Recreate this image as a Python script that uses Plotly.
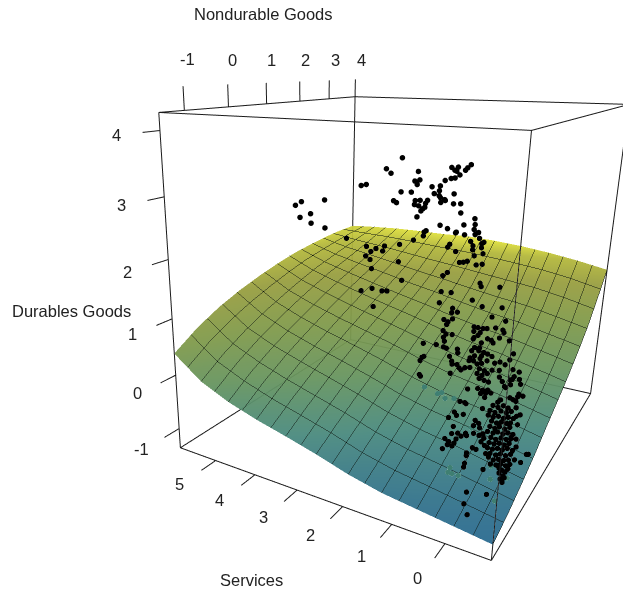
import plotly.graph_objects as go

# ---------- axis limits of the drawn box and tick values ----------
nondurable_limits = [-1.515, 4.0]
services_limits = [-0.809, 5.959]
durables_limits = [-1.372, 4.263]
tick_values_nondurable = [-1, 0, 1, 2, 3, 4]
tick_values_services = [0, 1, 2, 3, 4, 5]
tick_values_durables = [-1, 0, 1, 2, 3, 4]

# ---------- fitted surface ----------
grid_nondurable = [-1.515, -0.964, -0.412, 0.139, 0.691, 1.243, 1.794, 2.346, 2.897, 3.449, 4.0]
grid_services = [-0.809, -0.132, 0.545, 1.222, 1.899, 2.576, 3.252, 3.929, 4.606, 5.283, 5.959]
surface_durables = [
    [-1.12, -1.00, -0.84, -0.66, -0.45, -0.25, -0.04, 0.20, 0.48, 0.84, 1.22],
    [-1.05, -0.90, -0.73, -0.54, -0.32, -0.12, 0.09, 0.32, 0.60, 0.97, 1.32],
    [-0.98, -0.80, -0.61, -0.41, -0.20, 0.00, 0.21, 0.44, 0.71, 1.06, 1.40],
    [-0.91, -0.71, -0.51, -0.31, -0.10, 0.11, 0.31, 0.52, 0.78, 1.12, 1.46],
    [-0.79, -0.58, -0.37, -0.17, 0.04, 0.24, 0.43, 0.63, 0.86, 1.17, 1.50],
    [-0.63, -0.40, -0.19, 0.01, 0.21, 0.39, 0.57, 0.75, 0.95, 1.22, 1.52],
    [-0.49, -0.25, -0.03, 0.17, 0.36, 0.53, 0.69, 0.85, 1.03, 1.26, 1.50],
    [-0.36, -0.10, 0.13, 0.32, 0.50, 0.67, 0.82, 0.97, 1.12, 1.31, 1.50],
    [-0.20, 0.08, 0.30, 0.49, 0.66, 0.82, 0.96, 1.08, 1.21, 1.35, 1.49],
    [0.02, 0.30, 0.52, 0.70, 0.85, 0.99, 1.11, 1.20, 1.29, 1.38, 1.46],
    [0.39, 0.66, 0.86, 1.01, 1.13, 1.23, 1.31, 1.36, 1.40, 1.42, 1.42],
]

# ---------- observations: (services, durables) pairs at the low-nondurable side ----------
side_a = [
 1.09,3.86, 1.35,3.71, 1.27,3.66, 0.82,3.71, 1.78,3.47, 1.69,3.49, 0.87,3.59,
 0.83,3.55, 0.79,3.61, 0.30,3.79, 0.25,3.76, 0.20,3.80, 0.22,3.75, 0.01,3.84,
 0.06,3.80, 0.09,3.77, 0.39,3.63, 0.30,3.66, 0.24,3.67, 0.17,3.71, 0.59,3.54,
 0.46,3.56, 0.47,3.50, 1.09,3.44, 0.92,3.45, 0.55,3.46, 0.47,3.44, 0.45,3.42,
 0.38,3.40, 0.37,3.39, 0.24,3.48, 1.21,3.32, 1.16,3.30, 0.85,3.35, 0.77,3.36,
 0.86,3.30, 0.65,3.37, 0.68,3.33, 0.44,3.36, 0.24,3.36, 0.13,3.37, 0.79,3.29,
 0.69,3.28, 0.75,3.23, 0.72,3.26, 0.12,3.26, 0.81,3.15, -0.10,3.21, -0.11,3.14,
 -0.10,3.08, -0.17,3.05, -0.12,3.02, 0.06,3.12, 0.43,3.08, 0.31,3.05, 0.65,2.99,
 0.68,2.97, 0.69,2.92, 0.17,3.02, 0.18,3.01, 0.04,3.00, 0.85,2.85, 2.03,2.75,
 -0.06,2.93, -0.19,2.98, -0.26,2.94, -0.23,2.92, -0.23,2.87, 0.26,2.86, 0.29,2.82,
 0.16,2.78, -0.10,2.88, -0.10,2.83, 1.66,2.68, 1.49,2.67, 1.34,2.72, 1.08,2.77,
 1.58,2.62, 1.37,2.65, 1.67,2.55, 1.59,2.51, 1.09,2.54, -0.13,2.76, -0.26,2.80,
 0.09,2.65, 0.03,2.66, -0.03,2.68, 3.02,3.11, 2.90,3.17, 2.45,3.23, 2.72,3.02,
 2.93,2.95, 2.71,2.89, 2.44,2.85, 1.56,2.39, -0.17,2.65, -0.26,2.67, 0.27,2.50,
 0.34,2.45, 1.02,2.30, 1.74,2.06, 1.54,2.12, 1.36,2.11, 1.27,2.12, 1.51,1.87,
 -0.25,2.43, -0.27,2.39, -0.55,2.42, 0.35,2.24, 0.19,2.25, 0.37,2.09, -0.15,2.20,
 -0.31,2.14, -0.61,2.17, 0.15,2.05, 0.16,1.99, 0.07,2.01, 0.28,1.88, 0.21,1.86,
 0.14,1.91, 0.23,1.82, -0.47,2.03, -0.68,2.01, 0.28,1.73, 0.23,1.69, 0.13,1.70,
 -0.21,1.86, -0.27,1.86, -0.35,1.86, -0.41,1.87, -0.54,1.90, -0.65,1.89, -0.21,1.80,
 -0.31,1.80, 0.27,1.64, 0.25,1.59, 0.21,1.50, 0.26,1.51, -0.67,1.86, -0.22,1.72,
 -0.28,1.76, -0.21,1.70, -0.43,1.74, -0.49,1.73, -0.52,1.70, -0.61,1.78, -0.76,1.77,
 0.60,1.50, 0.38,1.52, -0.34,1.67, -0.32,1.60, -0.24,1.59, -0.31,1.56, -0.20,1.54,
 -0.39,1.55, -0.45,1.54, -0.52,1.52, 0.03,1.52, 0.02,1.47, 0.61,1.30, 0.64,1.25,
 0.58,1.32, 0.15,1.40, 0.11,1.34, 0.10,1.30, 0.02,1.31, -0.02,1.27, -0.05,1.25,
 -0.18,1.44, -0.25,1.48, -0.17,1.40, -0.24,1.41, -0.34,1.46, -0.36,1.50, -0.11,1.29,
 -0.19,1.31, -0.30,1.38, -0.37,1.40, -0.45,1.45, -0.57,1.44, -0.65,1.47, -0.73,1.45,
 -0.34,1.32, -0.42,1.31, -0.31,1.25, -0.39,1.24, -0.47,1.28, -0.54,1.34, -0.65,1.36,
 -0.35,1.19, -0.43,1.18, -0.50,1.17, -0.71,1.22, -0.75,1.16, -0.77,1.15, 0.12,1.17,
 0.64,1.05, 0.62,1.03, -0.18,1.01, -0.34,1.05, -0.42,1.04, -0.39,0.99, -0.47,1.01,
 -0.50,1.06, -0.46,0.95, -0.55,1.03, -0.67,0.93, -0.71,0.97, -0.07,0.81, -0.15,0.81,
 -0.17,0.80, 0.01,0.64, -0.14,0.64, -0.03,0.60, 0.10,0.54, -0.44,0.79, 0.01,0.43,
 -0.34,0.60, -0.32,0.52, -0.40,0.57, 0.03,0.32, -0.07,0.35, -0.20,0.38, -0.22,0.35,
 -0.13,0.32, 0.14,0.22, 0.07,0.19, -0.02,0.19, 0.09,0.14, 0.01,0.14, -0.05,0.26,
 0.17,0.06, -0.33,0.41, -0.42,0.40, -0.50,0.38, -0.24,0.10, -0.24,0.06, -0.33,0.20,
 -0.39,0.19, -0.22,-0.06, -0.21,-0.12, -0.53,-0.07, -0.29,-0.48, -0.26,-0.67, -0.33,-0.82,
 -0.62,-0.42, -0.66,1.27, -0.60,0.87, -0.68,0.86, -0.76,0.90, -0.56,0.79, -0.64,0.78,
 -0.73,0.82, -0.54,0.72, -0.62,0.71, -0.70,0.74, -0.78,0.73, -0.60,0.65, -0.68,0.64,
 -0.75,0.67, -0.58,0.57, -0.66,0.56, -0.73,0.60, -0.55,0.49, -0.64,0.49, -0.71,0.52,
 -0.61,0.42, -0.69,0.41, -0.77,0.45, -0.59,0.34, -0.67,0.34, -0.75,0.37, -0.57,0.26,
 -0.65,0.26, -0.73,0.29, -0.62,0.19, -0.71,0.19, -0.52,0.28, -0.46,0.32, -0.55,0.17,
 -0.60,0.13, -0.68,0.11, -0.76,0.14, -0.73,0.05, -0.64,0.04, -0.78,0.02, -0.42,0.51,
 -0.48,0.44,
]
# (nondurable, durables) pairs at the low-services side
side_b = [
 -1.32,1.54, -1.45,1.51, -1.28,1.31, -1.00,1.16, -1.20,1.18, -0.96,1.04, -0.89,0.94,
 -1.35,1.20, -1.32,1.12, -1.30,0.93, -1.16,0.84, -0.96,0.79, -0.72,0.69, -1.02,0.75,
 -0.24,-0.46, -0.13,-0.52, -0.50,-0.45, -0.92,0.81, -0.98,0.64, -0.76,0.43, -0.93,0.49,
 -1.08,0.25, -1.27,1.17, -1.33,0.80, -1.39,0.76, -1.18,0.68, -1.29,0.65, -1.06,0.52,
 -1.33,0.58, -1.17,0.51, -1.39,0.53, -1.18,0.45, -1.45,0.49, -1.24,0.40, -1.01,0.26,
 -1.29,0.33, -1.08,0.23, -1.35,0.28, -1.14,0.19, -1.41,0.24, -1.20,0.15, -0.96,-0.01,
 -1.48,0.22, -1.25,0.07, -1.03,-0.03, -1.31,0.03, -1.10,-0.08, -1.42,0.04, -1.20,-0.11,
 -1.35,-0.09, -1.21,-0.20, -1.46,-0.07, -1.28,-0.22, -1.39,-0.20, -1.29,-0.31, -1.22,-0.28,
 -1.09,-0.22, -1.02,-0.19, -0.82,-0.23, -0.80,-0.04, -0.84,0.10, -0.84,0.32,
]
# observations seen through the surface
under_a = [0.54,0.89, 0.31,0.84, 0.24,0.87, 0.18,0.80, 0.03,0.83, -0.29,0.48, 0.02,-0.19,
           0.05,-0.27, -0.02,-0.27, -0.13,-0.27, -0.65,0.01, -0.66,-0.18, -0.76,-0.48]
under_b = [-1.09,-0.36]

# ---------- view ----------
scene_range_x = [-3.2, 4.2]
scene_range_y = [-1.1, 6.0]
scene_range_z = [-1.5, 5.5]
eye = dict(x=-1.5639, y=-0.7478, z=0.4526)
center = dict(x=-0.1907, y=0.1189, z=-0.0794)
up = dict(x=-0.0192, y=0.0182, z=1.0)
aspect = dict(x=1.2288, y=0.8836, z=1.0652)

xm, xM = nondurable_limits
ym, yM = services_limits
zm, zM = durables_limits
X_SIDE = xm + 0.03
Y_SIDE = ym + 0.03

def pairs(v):
    return v[0::2], v[1::2]

fig = go.Figure()
fig.add_trace(go.Surface(
    x=grid_nondurable, y=grid_services, z=surface_durables,
    showscale=False, cmin=-1.12, cmax=1.54, hoverinfo='skip', opacity=0.95,
    colorscale=[[0, '#2a6a90'], [0.24, '#4a8a7e'], [0.42, '#67945f'], [0.6, '#7f9a4c'], [0.8, '#989e40'], [0.92, '#b4b83c'], [1, '#e8e83c']],
    lighting=dict(ambient=0.66, diffuse=0.45, specular=0, roughness=1, fresnel=0),
    lightposition=dict(x=-1000, y=-300, z=300),
    contours=dict(
        x=dict(show=True, start=xm, end=xM, size=(xM - xm) / 14, color='#0c140e', width=3, highlight=False),
        y=dict(show=True, start=ym, end=yM, size=(yM - ym) / 20, color='#0c140e', width=3, highlight=False),
        z=dict(highlight=False)),
))

# box
bx = [xm, xM, xM, xm, xm, None, xm, xM, xM, xm, xm, None, xm, xm, None, xM, xM, None, xM, xM, None, xm, xm]
by = [ym, ym, yM, yM, ym, None, ym, ym, yM, yM, ym, None, ym, ym, None, ym, ym, None, yM, yM, None, yM, yM]
bz = [zM, zM, zM, zM, zM, None, zm, zm, zm, zm, zm, None, zm, zM, None, zm, zM, None, zm, zM, None, zm, zM]
line = dict(color='#1a1a1a', width=2)
fig.add_trace(go.Scatter3d(x=bx, y=by, z=bz, mode='lines', line=line, hoverinfo='skip'))

# ticks
TX, TY, TZ = [], [], []
for t in tick_values_nondurable:
    TX += [t, t, None]; TY += [yM, yM, None]; TZ += [zM, zM + 0.36, None]
for t in tick_values_services:
    TX += [xm, xm - 0.33, None]; TY += [t, t, None]; TZ += [zm, zm, None]
for t in tick_values_durables:
    TX += [xm, xm - 0.33, None]; TY += [yM, yM, None]; TZ += [t, t, None]
fig.add_trace(go.Scatter3d(x=TX, y=TY, z=TZ, mode='lines', line=line, hoverinfo='skip'))

# points
ya, za = pairs(side_a)
xb, zb = pairs(side_b)
px = [X_SIDE] * len(ya) + xb
py = ya + [Y_SIDE] * len(xb)
pz = za + zb
fig.add_trace(go.Scatter3d(x=px, y=py, z=pz, mode='markers', hoverinfo='skip',
                           marker=dict(size=3.2, color='black', line=dict(width=0))))
yu, zu = pairs(under_a)
xu, zv = pairs(under_b)
fig.add_trace(go.Scatter3d(x=[X_SIDE] * len(yu) + xu, y=yu + [Y_SIDE] * len(xu), z=zu + zv, mode='markers', hoverinfo='skip',
                           marker=dict(size=3.2, color='#3f7f72', line=dict(width=0))))

font = dict(family='Liberation Sans', size=16.5, color='#222222')
scene_ann = []
for t in tick_values_nondurable:
    scene_ann.append(dict(x=t, y=yM, z=zM + 0.75, text=str(t), showarrow=False, font=font, xshift=6))
for t in tick_values_services:
    scene_ann.append(dict(x=xm - 0.75, y=t, z=zm, text=str(t), showarrow=False, font=font, xshift=-3))
for t in tick_values_durables:
    scene_ann.append(dict(x=xm - 0.75, y=yM, z=t, text=str(t), showarrow=False, font=font, xshift=-3))

hidden = lambda r: dict(range=r, visible=False)
title = lambda s, u, v: dict(text=s, x=u / 623, y=1 - v / 594, xref='paper', yref='paper', showarrow=False,
                             font=font, xanchor='center', yanchor='middle')
fig.update_layout(
    width=623, height=594, margin=dict(l=0, r=0, t=0, b=0), showlegend=False, paper_bgcolor='white',
    scene=dict(xaxis=hidden(scene_range_x), yaxis=hidden(scene_range_y), zaxis=hidden(scene_range_z),
               aspectmode='manual', aspectratio=aspect,
               camera=dict(eye=eye, center=center, up=up), annotations=scene_ann),
    annotations=[title('Nondurable Goods', 263, 14), title('Durables Goods', 71, 311), title('Services', 251, 580)])
fig.write_html("out.html", config=dict(displayModeBar=False), post_script="document.body.style.margin='0';")
